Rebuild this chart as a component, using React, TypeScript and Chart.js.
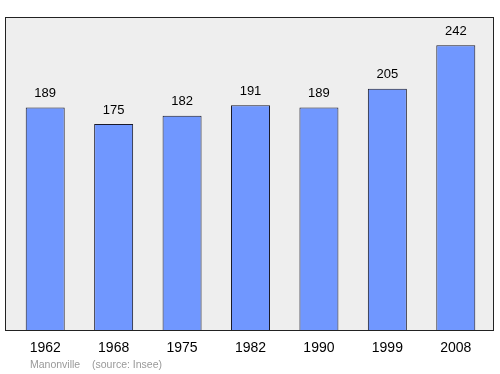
import React, { useEffect, useRef } from "react";
import { Chart, registerables } from "chart.js";

Chart.register(...registerables);

const years = ["1962", "1968", "1975", "1982", "1990", "1999", "2008"];
const population = [189, 175, 182, 191, 189, 205, 242];
const footerPlace = "Manonville";
const footerSource = "(source: Insee)";

const FONT = "'Liberation Sans', Arial, sans-serif";

const decorPlugin = {
  id: "decor",
  beforeDraw(chart: any) {
    const { ctx, chartArea } = chart;
    ctx.save();
    const x0 = 5.5, x1 = 493.5;
    const y0 = chartArea.top + 0.5, y1 = chartArea.bottom + 0.5;
    ctx.fillStyle = "#eeeeee";
    ctx.fillRect(x0, y0, x1 - x0, y1 - y0);
    ctx.strokeStyle = "#222222";
    ctx.lineWidth = 1;
    ctx.strokeRect(x0, y0, x1 - x0, y1 - y0);
    ctx.restore();
  },
  afterDatasetsDraw(chart: any) {
    const { ctx } = chart;
    const meta = chart.getDatasetMeta(0);
    const data = chart.data.datasets[0].data;
    ctx.save();
    ctx.fillStyle = "#000";
    ctx.font = `13px ${FONT}`;
    ctx.textAlign = "center";
    ctx.textBaseline = "middle";
    meta.data.forEach((el: any, i: number) => {
      ctx.fillText(String(data[i]), el.x, el.y - 14);
    });
    ctx.fillStyle = "#999999";
    ctx.font = `10.5px ${FONT}`;
    ctx.textAlign = "left";
    ctx.fillText(footerPlace, 30, 365);
    ctx.fillText(footerSource, 92, 365);
    ctx.restore();
  },
};

export default function App() {
  const ref = useRef<HTMLCanvasElement>(null);
  useEffect(() => {
    document.body.style.margin = "0";
    const chart = new Chart(ref.current!, {
      type: "bar",
      data: {
        labels: years,
        datasets: [
          {
            data: population,
            backgroundColor: "#7097ff",
            borderColor: "#1a1a2a",
            borderWidth: 1,
            borderSkipped: "bottom",
            barPercentage: 0.57,
            categoryPercentage: 1,
          },
        ],
      },
      options: {
        animation: false,
        responsive: false,
        maintainAspectRatio: false,
        layout: { padding: { left: 11, right: 10, top: 17, bottom: 7.2 } },
        plugins: { legend: { display: false }, tooltip: { enabled: false } },
        scales: {
          x: {
            grid: { display: false, drawTicks: false },
            border: { display: false },
            ticks: { color: "#000", font: { size: 14, family: FONT }, padding: 10, maxRotation: 0 },
          },
          y: { display: false, min: 0, max: 266 },
        },
      },
      plugins: [decorPlugin],
    });
    return () => chart.destroy();
  }, []);
  return (
    <div style={{ position: "absolute", left: 0, top: 0, width: 500, height: 374 }}>
      <canvas ref={ref} width={500} height={374} />
    </div>
  );
}
